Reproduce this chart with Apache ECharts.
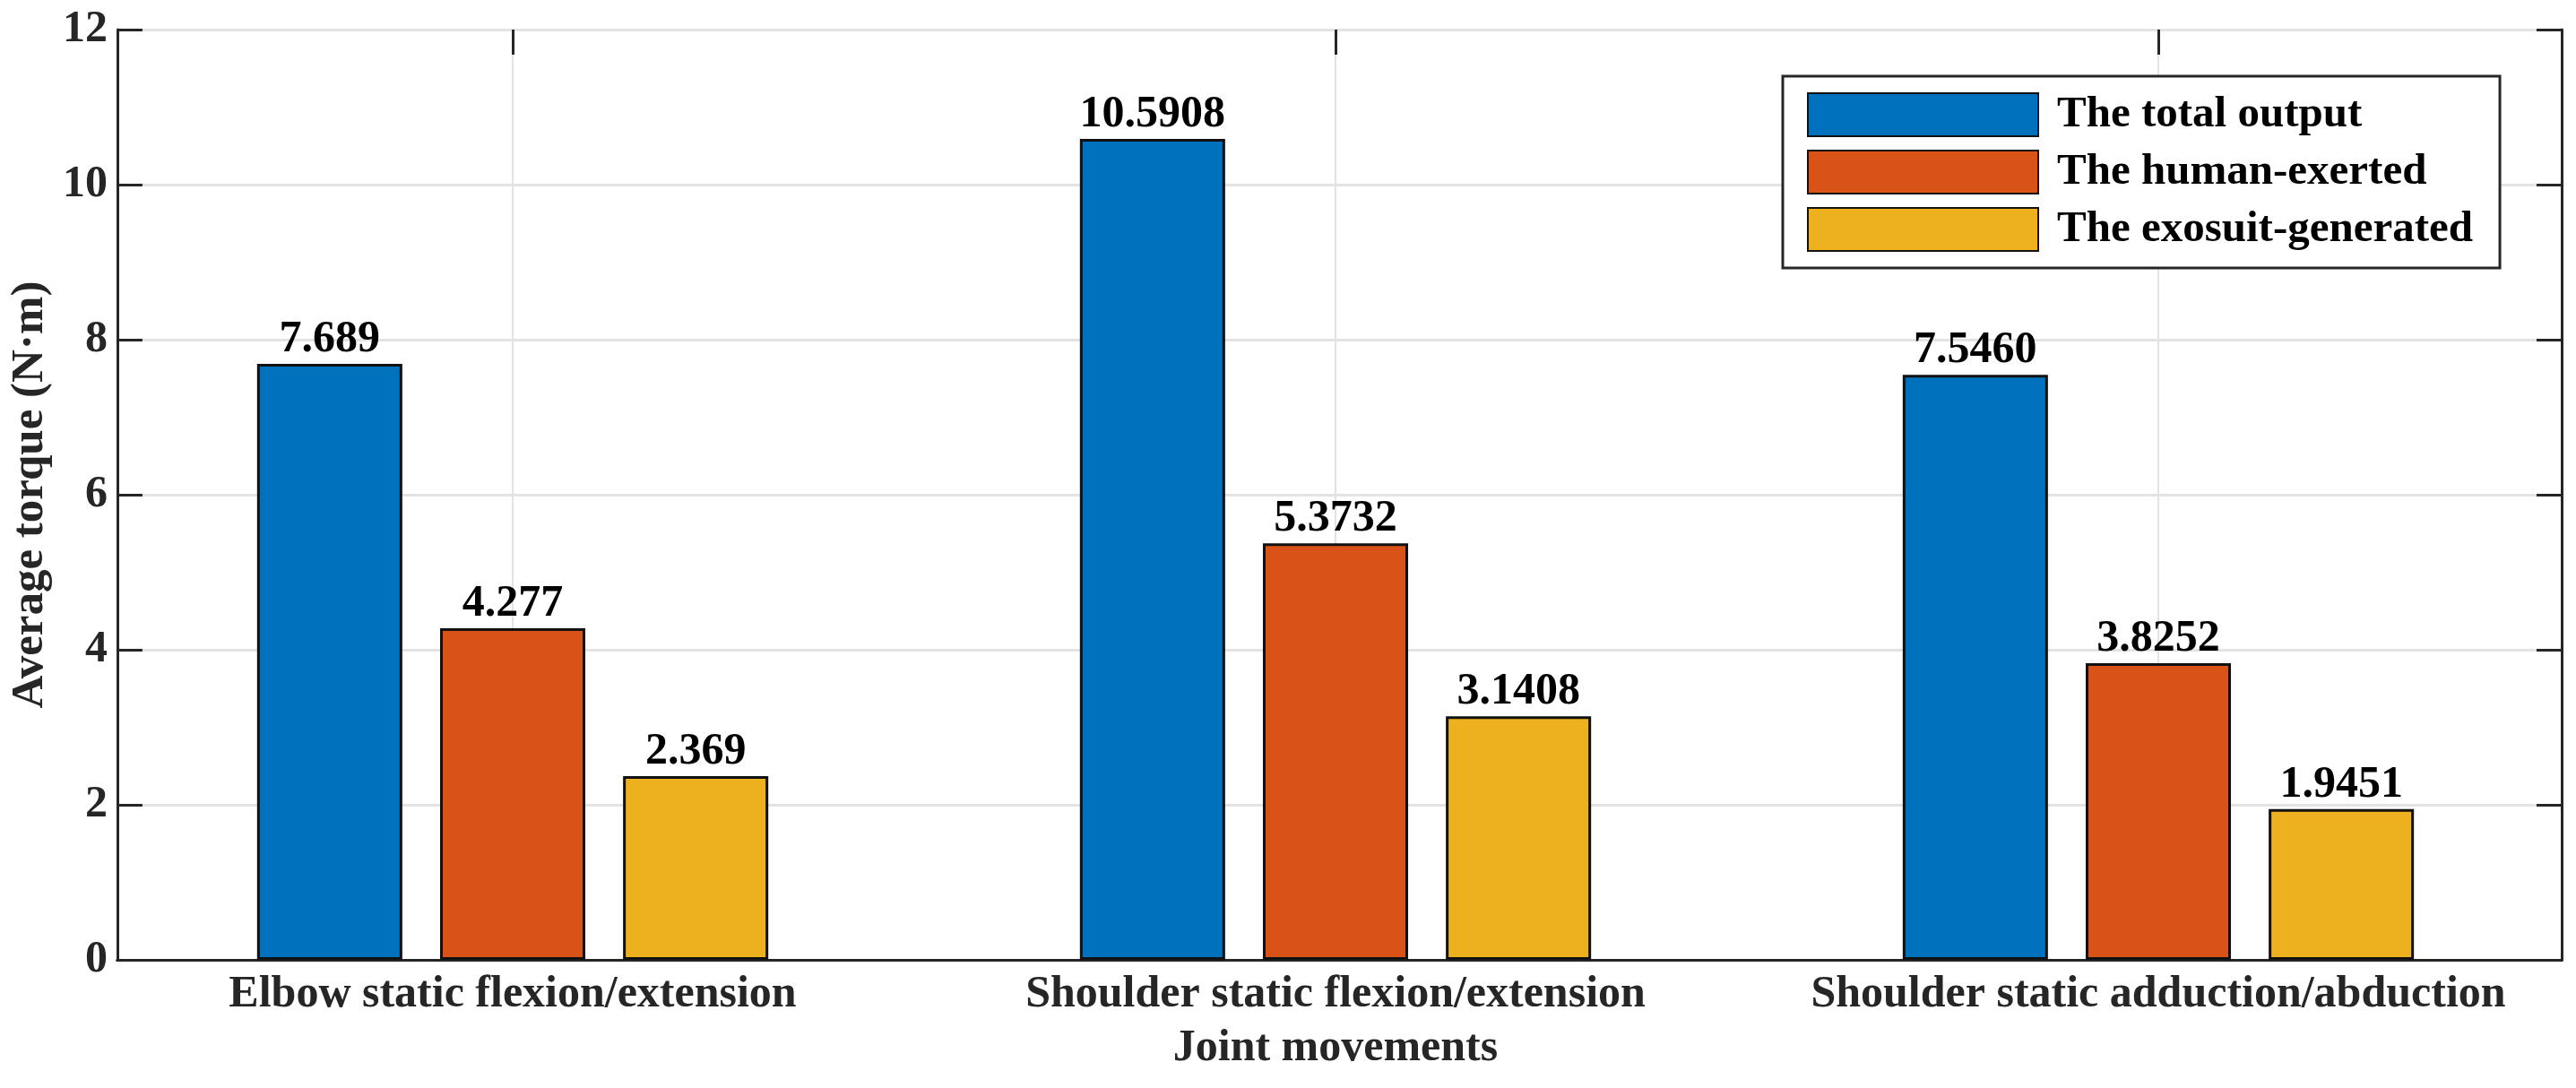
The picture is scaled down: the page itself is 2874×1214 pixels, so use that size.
<!DOCTYPE html>
<html>
<head>
<meta charset="utf-8">
<script src="https://cdn.jsdelivr.net/npm/echarts@6/dist/echarts.min.js"></script>
<style>
html,body{margin:0;padding:0;background:#fff;}
#c{width:2874px;height:1214px;}
</style>
</head>
<body>
<div id="c"></div>
<script>
const categories = ['Elbow static flexion/extension', 'Shoulder static flexion/extension', 'Shoulder static adduction/abduction'];
const seriesNames = ['The total output', 'The human-exerted', 'The exosuit-generated'];
const totalOutput = [7.689, 10.5908, 7.5460];
const humanExerted = [4.277, 5.3732, 3.8252];
const exosuitGenerated = [2.369, 3.1408, 1.9451];
const totalLabels = ['7.689', '10.5908', '7.5460'];
const humanLabels = ['4.277', '5.3732', '3.8252'];
const exosuitLabels = ['2.369', '3.1408', '1.9451'];
const yTicks = [0, 2, 4, 6, 8, 10, 12];

const colors = ['#0072BD', '#D95319', '#EDB120'];
const FONT = "'Liberation Serif', 'Times New Roman', serif";
const AX = '#262626';
const GRIDC = '#e3e3e3';
const FS = 50;

// helper category axis with doubled positions so grid lines/ticks sit at category centres
const helperCats = [];
for (let i = 0; i <= categories.length * 2; i++) helperCats.push(String(i));
const oddOnly = (idx) => idx % 2 === 1;

function mkSeries(name, data, labels, color) {
  return {
    name: name,
    type: 'bar',
    xAxisIndex: 1,
    yAxisIndex: 2,
    data: data,
    barWidth: '17.65%',
    barGap: '26%',
    itemStyle: { color: color, borderColor: '#111', borderWidth: 3 },
    label: {
      show: true,
      position: 'top',
      distance: 2,
      fontFamily: FONT,
      fontWeight: 'bold',
      fontSize: 50,
      color: '#000',
      formatter: (p) => labels[p.dataIndex]
    }
  };
}

const chart = echarts.init(document.getElementById('c'), null, { renderer: 'canvas' });
chart.setOption({
  animation: false,
  backgroundColor: '#fff',
  textStyle: { fontFamily: FONT },
  grid: [
    // frame (axes box)
    { left: 124, right: 16, top: 33, bottom: 143, containLabel: false },
    // bar area: MATLAB-like x limits slightly tighter than half a category
    { left: 113, right: 7, top: 33, bottom: 143, containLabel: false }
  ],
  legend: {
    data: seriesNames,
    orient: 'vertical',
    left: 1989,
    top: 85,
    padding: [18, 30, 18, 27],
    itemWidth: 257,
    itemHeight: 48,
    itemGap: 14,
    backgroundColor: '#fff',
    borderColor: AX,
    borderWidth: 3,
    icon: 'rect',
    textStyle: { fontFamily: FONT, fontWeight: 'bold', fontSize: 49, color: '#000', padding: [0, 0, 0, 16] }
  },
  xAxis: [
    { // frame bottom line
      gridIndex: 0, type: 'category', data: categories, position: 'bottom',
      axisLine: { show: true, lineStyle: { color: AX, width: 3 } },
      axisTick: { show: false }, axisLabel: { show: false }, splitLine: { show: false }
    },
    { // bar category axis: ticks, labels and name
      gridIndex: 1, type: 'category', data: categories, position: 'bottom',
      axisLine: { show: false },
      axisTick: { show: true, inside: true, length: 28, alignWithLabel: true, lineStyle: { color: AX, width: 3 } },
      axisLabel: { interval: 0, margin: 14, fontFamily: FONT, fontWeight: 'bold', fontSize: FS, color: AX },
      splitLine: { show: false },
      name: 'Joint movements',
      nameLocation: 'middle',
      nameGap: 74,
      nameTextStyle: { fontFamily: FONT, fontWeight: 'bold', fontSize: FS, color: AX }
    },
    { // top ticks + vertical grid lines at category centres
      gridIndex: 1, type: 'category', data: helperCats, boundaryGap: false, position: 'top',
      axisLine: { show: false },
      axisTick: { show: true, inside: true, length: 28, interval: oddOnly, lineStyle: { color: AX, width: 3 } },
      axisLabel: { show: false },
      splitLine: { show: true, interval: oddOnly, lineStyle: { color: GRIDC, width: 2 } }
    },
    { // frame top line
      gridIndex: 0, type: 'category', data: categories, position: 'top',
      axisLine: { show: true, lineStyle: { color: AX, width: 3 } },
      axisTick: { show: false }, axisLabel: { show: false }, splitLine: { show: false }
    }
  ],
  yAxis: [
    {
      gridIndex: 0, type: 'value',
      min: yTicks[0], max: yTicks[yTicks.length - 1], interval: 2,
      position: 'left',
      axisLine: { show: true, lineStyle: { color: AX, width: 3 } },
      axisTick: { show: true, inside: true, length: 28, lineStyle: { color: AX, width: 3 } },
      axisLabel: { margin: 11, fontFamily: FONT, fontWeight: 'bold', fontSize: 50, color: AX },
      splitLine: { show: true, lineStyle: { color: GRIDC, width: 3 } },
      name: 'Average torque (N·m)',
      nameLocation: 'middle',
      nameGap: 68,
      nameRotate: 90,
      nameTextStyle: { fontFamily: FONT, fontWeight: 'bold', fontSize: 51, color: AX }
    },
    {
      gridIndex: 0, type: 'value',
      min: yTicks[0], max: yTicks[yTicks.length - 1], interval: 2,
      position: 'right',
      axisLine: { show: true, lineStyle: { color: AX, width: 3 } },
      axisTick: { show: true, inside: true, length: 28, lineStyle: { color: AX, width: 3 } },
      axisLabel: { show: false },
      splitLine: { show: false }
    },
    { // value axis for the bars (hidden)
      gridIndex: 1, type: 'value',
      min: yTicks[0], max: yTicks[yTicks.length - 1], interval: 2,
      show: false
    }
  ],
  series: [
    mkSeries(seriesNames[0], totalOutput, totalLabels, colors[0]),
    mkSeries(seriesNames[1], humanExerted, humanLabels, colors[1]),
    mkSeries(seriesNames[2], exosuitGenerated, exosuitLabels, colors[2])
  ]
});
</script>
</body>
</html>
